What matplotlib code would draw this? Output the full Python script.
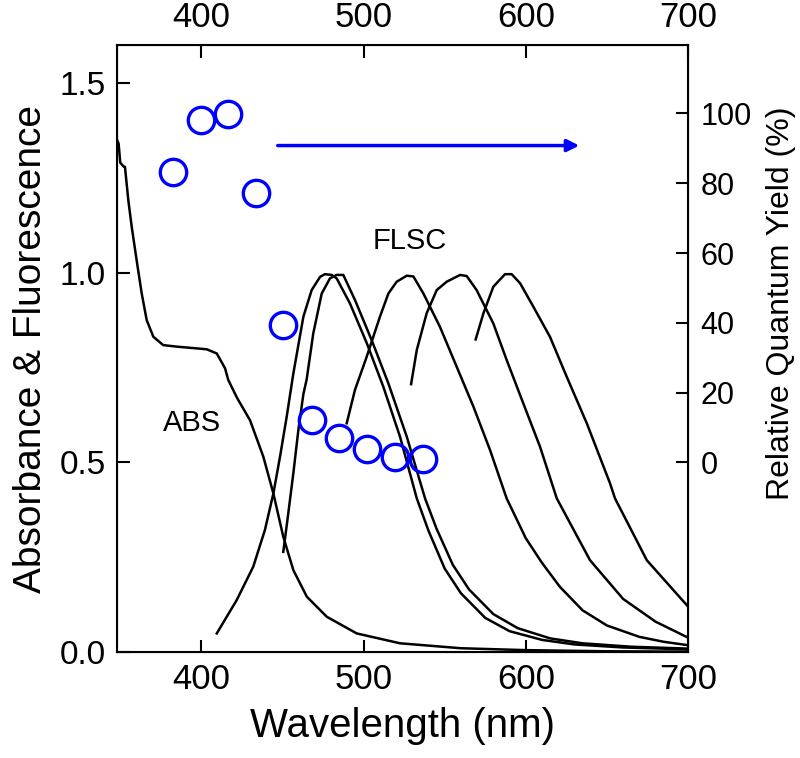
import numpy as np
import matplotlib
matplotlib.use("Agg")
import matplotlib.pyplot as plt

plt.rcParams['font.family'] = ['Liberation Sans', 'DejaVu Sans']

# Absorbance spectrum
abs_wl = [348, 349, 350, 352, 352.9, 355.0, 357.1, 360.1, 363.2, 366.3, 370.4, 376.5, 384.8,
          403.3, 409.5, 414.6, 416.6, 422, 430.0, 438.2, 444.4, 450.5, 456.7, 465.0, 477.3,
          495.8, 522.5, 560, 600, 650, 700]
abs_val = [1.35, 1.34, 1.29, 1.28, 1.279, 1.19, 1.12, 1.033, 0.946, 0.875, 0.831, 0.809, 0.805,
           0.798, 0.787, 0.748, 0.717, 0.67, 0.611, 0.515, 0.418, 0.304, 0.216, 0.146, 0.093,
           0.049, 0.023, 0.010, 0.005, 0.002, 0.001]

# Fluorescence spectra (normalized)
fa_wl = [409.5, 421.8, 432.0, 439.2, 444.4, 448.5, 452.6, 456.7, 462.9, 468.0, 473.2, 476.2,
         480.3, 483.4, 491.6, 502.0, 512.2, 522.5, 532.8, 540, 550, 560, 575, 590, 610, 630, 660, 700]
fa_val = [0.049, 0.137, 0.225, 0.322, 0.418, 0.515, 0.620, 0.734, 0.884, 0.954, 0.989, 0.996,
          0.994, 0.985, 0.919, 0.814, 0.699, 0.567, 0.405, 0.32, 0.22, 0.155, 0.09, 0.055, 0.032,
          0.02, 0.012, 0.007]

fb_wl = [450.5, 453.6, 456.7, 459.8, 462.9, 464.9, 469.0, 474.2, 479.3, 483.4, 487.5, 494.7,
         505.0, 515.3, 526.6, 537.9, 545, 555, 565, 580, 595, 615, 635, 665, 700]
fb_val = [0.264, 0.366, 0.471, 0.585, 0.68, 0.718, 0.840, 0.945, 0.985, 0.994, 0.994, 0.928,
          0.822, 0.708, 0.568, 0.405, 0.325, 0.23, 0.165, 0.10, 0.063, 0.036, 0.023, 0.014, 0.009]

fc_wl = [489.6, 494.7, 501.9, 510.1, 515.3, 520.4, 526.6, 530.7, 536.9, 547.1, 557.4, 567.7,
         578.0, 588.2, 600, 610, 621, 635, 650, 670, 685, 700]
fc_val = [0.603, 0.691, 0.778, 0.884, 0.945, 0.976, 0.992, 0.990, 0.945, 0.857, 0.752, 0.647,
          0.532, 0.405, 0.30, 0.235, 0.172, 0.11, 0.07, 0.04, 0.027, 0.018]

fd_wl = [529.3, 532.8, 538.9, 545.1, 551.2, 559.5, 563.6, 569.7, 580.0, 588.2, 598.5, 608.8,
         619.1, 639.6, 660, 680, 700]
fd_val = [0.706, 0.796, 0.893, 0.954, 0.976, 0.994, 0.991, 0.954, 0.866, 0.770, 0.655, 0.541,
          0.405, 0.242, 0.14, 0.08, 0.038]

fe_wl = [569.1, 573.9, 580.0, 587.2, 591.3, 596.5, 604.7, 614.9, 625.2, 637.6, 651.9, 655.0,
         674.6, 700]
fe_val = [0.824, 0.893, 0.963, 0.996, 0.996, 0.972, 0.910, 0.831, 0.726, 0.603, 0.445, 0.405,
          0.242, 0.12]

# Relative quantum yield (%)
qy_wl = [382.3, 399.6, 416.6, 433.5, 450.3, 468.2, 484.9, 502.1, 519.4, 536.7]
qy_val = [83.2, 98.2, 99.9, 77.2, 39.3, 12.3, 6.9, 4.0, 1.7, 1.1]

xticks = [400, 500, 600, 700]
yticks = [0.0, 0.5, 1.0, 1.5]
rticks = [0, 20, 40, 60, 80, 100]

fig = plt.figure(figsize=(8.0, 7.58), dpi=100)
ax = fig.add_axes([0.14625, 0.1398, 0.71375, 0.8008])

lw = 1.8
ax.plot(abs_wl, abs_val, color='black', lw=lw)
for wl, v in [(fa_wl, fa_val), (fb_wl, fb_val), (fc_wl, fc_val), (fd_wl, fd_val), (fe_wl, fe_val)]:
    ax.plot(wl, v, color='black', lw=lw)

ax.set_xlim(348, 700)
ax.set_ylim(0, 1.6)
ax.set_xticks(xticks)
ax.set_yticks(yticks)
ax.set_yticklabels([f"{t:.1f}" for t in yticks])
ax.tick_params(direction='in', length=9, width=1.5, pad=8,
               top=True, labeltop=True, right=False)
ax.tick_params(axis='x', labelsize=25)
ax.tick_params(axis='y', labelsize=24)
for s in ax.spines.values():
    s.set_linewidth(1.5)
ax.set_xlabel('Wavelength (nm)', fontsize=29, labelpad=8)
ax.set_ylabel('Absorbance & Fluorescence', fontsize=28, labelpad=8)

ax.text(394.5, 0.604, 'ABS', fontsize=21, ha='center', va='center')
ax.text(528.6, 1.083, 'FLSC', fontsize=21, ha='center', va='center')

ax.annotate('', xy=(634.7, 1.335), xytext=(445.4, 1.335),
            arrowprops=dict(arrowstyle='-|>', color='#0000ff', lw=2.5, mutation_scale=18))

ax2 = ax.twinx()
ax2.set_ylim(-54.3, 119.6)
ax2.set_yticks(rticks)
ax2.tick_params(direction='in', length=9, width=1.5, labelsize=22, pad=9)
ax2.set_ylabel('Relative Quantum Yield (%)', fontsize=23, labelpad=10, y=0.575)
ax2.plot(qy_wl, qy_val, linestyle='none', marker='o', markersize=19, markerfacecolor='none',
         markeredgecolor='#0000ff', markeredgewidth=2.4)

fig.savefig('out.png', dpi=100)
